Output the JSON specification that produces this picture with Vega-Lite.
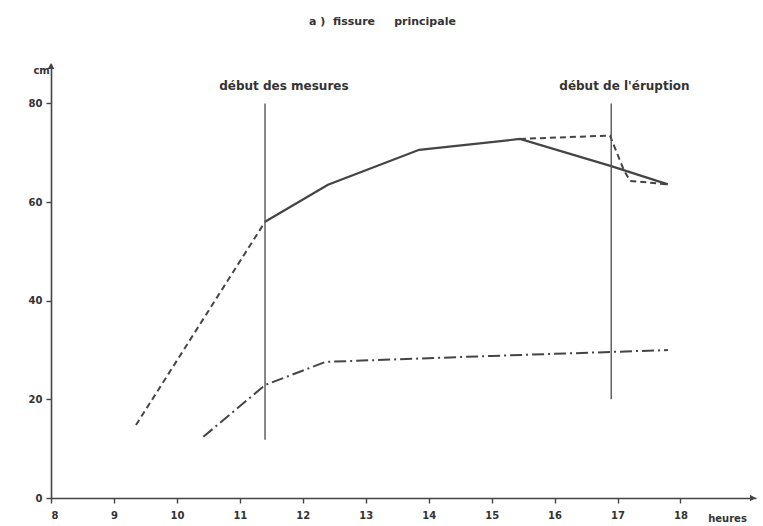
{
  "$schema": "https://vega.github.io/schema/vega-lite/v6.json",
  "width": 705,
  "height": 434,
  "autosize": {"type": "none"},
  "padding": {"left": 51, "top": 64, "right": 7, "bottom": 28},
  "background": "white",
  "title": {"text": "a\u00a0)\u00a0\u00a0fissure\u00a0\u00a0\u00a0\u00a0\u00a0principale", "anchor": "middle", "offset": 36, "dx": -21, "fontSize": 11, "font": "DejaVu Sans", "fontWeight": "bold", "color": "#333"},
  "config": {
    "view": {"stroke": null},
    "axis": {"grid": false, "domainColor": "#444", "domainWidth": 1.6, "tickColor": "#444", "tickWidth": 1.4, "tickSize": 5, "labelFont": "DejaVu Sans", "labelFontWeight": "bold", "labelFontSize": 10, "labelColor": "#333", "title": null}
  },
  "datasets": {
    "lines": [
      {"series": "avant", "heure": 9.35, "cm": 14.8},
      {"series": "avant", "heure": 11.4, "cm": 56},
      {"series": "mesure", "heure": 11.4, "cm": 56},
      {"series": "mesure", "heure": 12.4, "cm": 63.5},
      {"series": "mesure", "heure": 13.85, "cm": 70.6},
      {"series": "mesure", "heure": 15.45, "cm": 72.8},
      {"series": "mesure", "heure": 16.9, "cm": 67.3},
      {"series": "mesure", "heure": 17.8, "cm": 63.6},
      {"series": "variante", "heure": 15.45, "cm": 72.8},
      {"series": "variante", "heure": 16.88, "cm": 73.5},
      {"series": "variante", "heure": 17.1, "cm": 66.5},
      {"series": "variante", "heure": 17.2, "cm": 64.3},
      {"series": "variante", "heure": 17.8, "cm": 63.6},
      {"series": "autre", "heure": 10.42, "cm": 12.4},
      {"series": "autre", "heure": 11.4, "cm": 22.9},
      {"series": "autre", "heure": 12.36, "cm": 27.6},
      {"series": "autre", "heure": 15.0, "cm": 28.8},
      {"series": "autre", "heure": 17.8, "cm": 30.0}
    ],
    "events": [
      {"label": "début des mesures", "heure": 11.4, "bas": 11.8, "haut": 80, "lx": 11.7, "ly": 83.5},
      {"label": "début de l'éruption", "heure": 16.9, "bas": 20, "haut": 80, "lx": 17.11, "ly": 83.5}
    ],
    "arrows": [
      {"heure": 19.15, "cm": 0, "shape": "triangle-right"},
      {"heure": 8, "cm": 87.6, "shape": "triangle-up"}
    ],
    "units": [
      {"text": "heures", "heure": 18.44, "cm": -4.2},
      {"text": "cm", "heure": 7.72, "cm": 86.6}
    ]
  },
  "layer": [
    {
      "data": {"name": "lines"},
      "transform": [{"filter": "datum.series === 'avant'"}],
      "mark": {"type": "line", "color": "#444", "strokeWidth": 2, "strokeDash": [6, 4]},
      "encoding": {
        "x": {"field": "heure", "type": "quantitative", "scale": {"domain": [8, 19.2], "nice": false, "zero": false}, "axis": {"values": [8, 9, 10, 11, 12, 13, 14, 15, 16, 17, 18], "format": "d", "labelPadding": 7}},
        "y": {"field": "cm", "type": "quantitative", "scale": {"domain": [0, 88], "nice": false}, "axis": {"values": [0, 20, 40, 60, 80], "format": "d", "labelPadding": 4}}
      }
    },
    {
      "data": {"name": "lines"},
      "transform": [{"filter": "datum.series === 'mesure'"}],
      "mark": {"type": "line", "color": "#444", "strokeWidth": 2.2},
      "encoding": {"x": {"field": "heure", "type": "quantitative"}, "y": {"field": "cm", "type": "quantitative"}}
    },
    {
      "data": {"name": "lines"},
      "transform": [{"filter": "datum.series === 'variante'"}],
      "mark": {"type": "line", "color": "#444", "strokeWidth": 2, "strokeDash": [6, 4]},
      "encoding": {"x": {"field": "heure", "type": "quantitative"}, "y": {"field": "cm", "type": "quantitative"}}
    },
    {
      "data": {"name": "lines"},
      "transform": [{"filter": "datum.series === 'autre'"}],
      "mark": {"type": "line", "color": "#444", "strokeWidth": 2, "strokeDash": [12, 4, 2, 4]},
      "encoding": {"x": {"field": "heure", "type": "quantitative"}, "y": {"field": "cm", "type": "quantitative"}}
    },
    {
      "data": {"name": "events"},
      "mark": {"type": "rule", "color": "#555", "strokeWidth": 1.4},
      "encoding": {"x": {"field": "heure", "type": "quantitative"}, "y": {"field": "bas", "type": "quantitative"}, "y2": {"field": "haut"}}
    },
    {
      "data": {"name": "events"},
      "mark": {"type": "text", "font": "DejaVu Sans", "fontWeight": "bold", "fontSize": 12, "color": "#333", "baseline": "middle", "align": "center"},
      "encoding": {"x": {"field": "lx", "type": "quantitative"}, "y": {"field": "ly", "type": "quantitative"}, "text": {"field": "label"}}
    },
    {
      "data": {"name": "arrows"},
      "mark": {"type": "point", "filled": true, "color": "#444", "opacity": 1, "size": 45},
      "encoding": {"x": {"field": "heure", "type": "quantitative"}, "y": {"field": "cm", "type": "quantitative"}, "shape": {"field": "shape", "type": "nominal", "scale": null}}
    },
    {
      "data": {"name": "units"},
      "mark": {"type": "text", "font": "DejaVu Sans", "fontWeight": "bold", "fontSize": 10, "color": "#333", "baseline": "middle", "align": "left"},
      "encoding": {"x": {"field": "heure", "type": "quantitative"}, "y": {"field": "cm", "type": "quantitative"}, "text": {"field": "text"}}
    }
  ]
}
